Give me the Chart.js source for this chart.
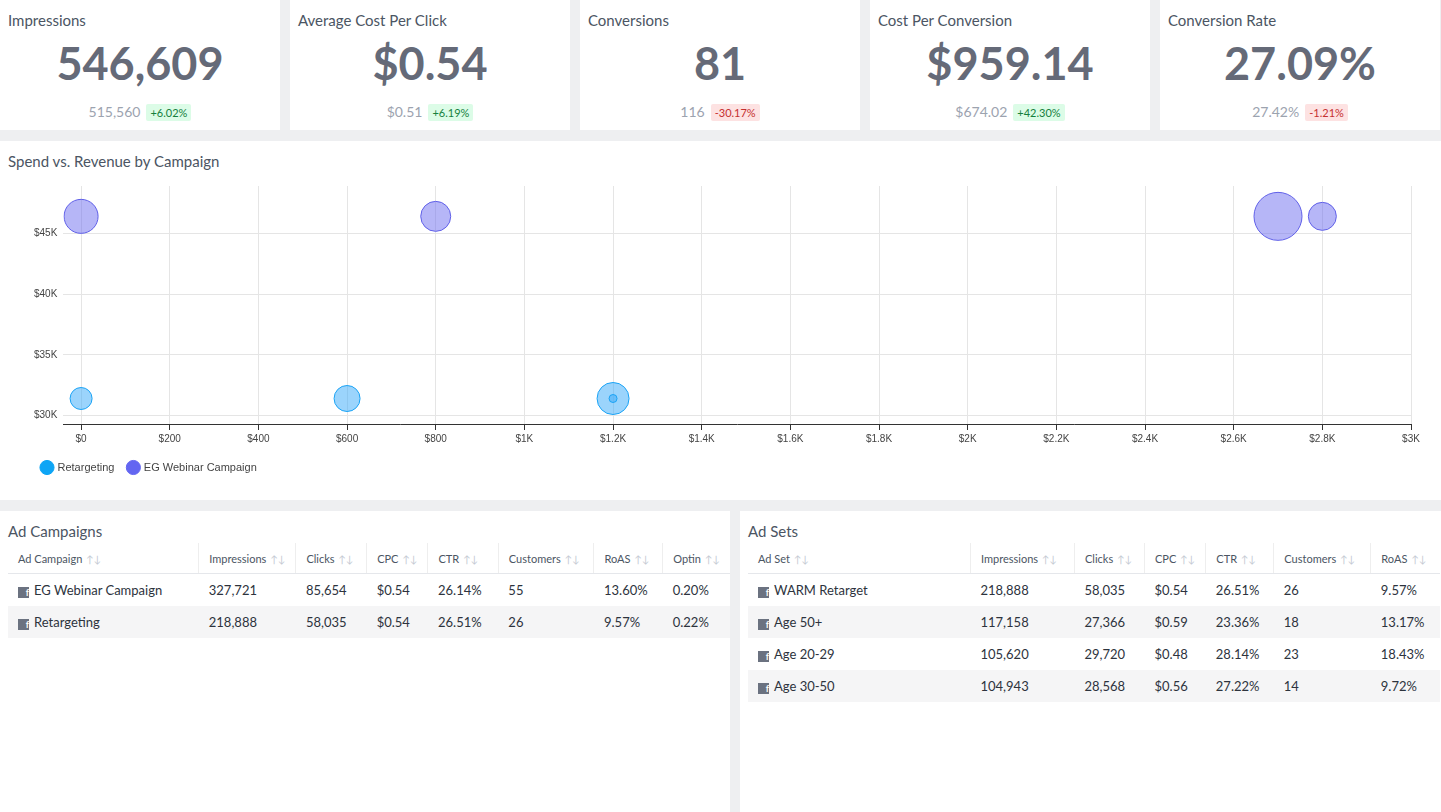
<!DOCTYPE html>
<html>
<head>
<meta charset="utf-8">
<script src="https://cdn.jsdelivr.net/npm/chart.js@4"></script>
<style>
body { margin:0; background:#eeeff1; font-family: Lato, "Noto Sans", sans-serif; color:#3d4451; width:1441px; height:812px; overflow:hidden; position:relative; }
.card { position:absolute; background:#fff; }
.kpi .t { position:absolute; left:8px; top:11px; font-size:15px; color:#4b5563; }
.kpi .v { position:absolute; left:0; right:0; top:36px; text-align:center; font-size:45px; font-weight:700; color:#656a78; }
.kpi .c { position:absolute; left:0; right:0; top:103px; text-align:center; font-size:14px; color:#9ca3af; }
.badge { font-size:11px; padding:2px 4px; border-radius:2px; margin-left:6px; }
.up { background:#dcfce7; color:#15803d; }
.dn { background:#fde2e2; color:#c53030; }
h3 { margin:0; position:absolute; left:8px; font-weight:400; font-size:15px; color:#4b5563; }
table { position:absolute; left:8px; top:32px; border-collapse:collapse; font-size:13px; }
th { text-align:left; font-weight:400; font-size:11px; color:#4b5563; height:30px; padding:0 10px; border-bottom:1px solid #e5e7eb; border-left:1px solid #eee; }
th:first-child { border-left:none; }
th span { color:#c5cad3; font-size:10px; margin-left:4px; }
td { height:32px; padding:0 10px; color:#2d333d; }
tr:nth-child(2n+1) td { background:#f5f5f6; }
.fb { display:inline-block; width:11px; height:11px; background:#6b7280; color:#fff; font-size:9px; font-weight:700; text-align:right; line-height:12px; margin-right:5px; vertical-align:-1px; }
</style>
</head>
<body>
<div id="kpis"></div>
<div class="card" style="left:0;top:141px;width:1441px;height:359px;">
  <h3 style="top:11px">Spend vs. Revenue by Campaign</h3>
  <div style="position:absolute;left:0;top:20px;width:1436px;height:322px;"><canvas id="bubble"></canvas></div>
</div>
<div class="card" style="left:0;top:511px;width:730px;height:301px;">
  <h3 style="top:11px">Ad Campaigns</h3>
  <table id="campTable"></table>
</div>
<div class="card" style="left:740px;top:511px;width:701px;height:301px;">
  <h3 style="top:11px">Ad Sets</h3>
  <table id="setTable"></table>
</div>
<script>
// KPI cards
const kpiTitles = ['Impressions', 'Average Cost Per Click', 'Conversions', 'Cost Per Conversion', 'Conversion Rate'];
const kpiValues = ['546,609', '$0.54', '81', '$959.14', '27.09%'];
const kpiPrev = ['515,560', '$0.51', '116', '$674.02', '27.42%'];
const kpiChange = ['+6.02%', '+6.19%', '-30.17%', '+42.30%', '-1.21%'];

// bubble chart data
const retargetingX = [0, 600, 1200, 1200];
const retargetingY = [31400, 31400, 31400, 31400];
const retargetingR = [11, 13, 16, 4];
const webinarX = [0, 800, 2700, 2800];
const webinarY = [46400, 46400, 46400, 46400];
const webinarR = [17, 15, 24, 14];
const yTicks = [30000, 35000, 40000, 45000];

// tables
const campHeaders = ['Ad Campaign', 'Impressions', 'Clicks', 'CPC', 'CTR', 'Customers', 'RoAS', 'Optin'];
const campWidths = [200, 95, 70, 55, 70, 95, 68, 47];
const campRows = [
    ['EG Webinar Campaign', '327,721', '85,654', '$0.54', '26.14%', '55', '13.60%', '0.20%'],
    ['Retargeting', '218,888', '58,035', '$0.54', '26.51%', '26', '9.57%', '0.22%']
];
const setHeaders = ['Ad Set', 'Impressions', 'Clicks', 'CPC', 'CTR', 'Customers', 'RoAS'];
const setWidths = [222, 103, 69, 59, 67, 96, 69];
const setRows = [
    ['WARM Retarget', '218,888', '58,035', '$0.54', '26.51%', '26', '9.57%'],
    ['Age 50+', '117,158', '27,366', '$0.59', '23.36%', '18', '13.17%'],
    ['Age 20-29', '105,620', '29,720', '$0.48', '28.14%', '23', '18.43%'],
    ['Age 30-50', '104,943', '28,568', '$0.56', '27.22%', '14', '9.72%']
];

let kpiHtml = '';
for (let i = 0; i < kpiTitles.length; i++) {
    let cls = kpiChange[i].startsWith('-') ? 'dn' : 'up';
    kpiHtml += `<div class="card kpi" style="left:${i * 290}px;top:0;width:280px;height:130px;">
        <div class="t">${kpiTitles[i]}</div><div class="v">${kpiValues[i]}</div>
        <div class="c">${kpiPrev[i]}<span class="badge ${cls}">${kpiChange[i]}</span></div></div>`;
}
document.getElementById('kpis').innerHTML = kpiHtml;

function montarTabela(id, headers, widths, rows) {
    let html = '<tr>';
    for (let i = 0; i < headers.length; i++) {
        html += `<th style="width:${widths[i] - 20}px">${headers[i]}<span>↑↓</span></th>`;
    }
    html += '</tr>';
    for (const row of rows) {
        html += '<tr>';
        row.forEach(function (c, i) {
            html += i == 0 ? `<td><span class="fb">f</span>${c}</td>` : `<td>${c}</td>`;
        });
        html += '</tr>';
    }
    document.getElementById(id).innerHTML = html;
}
montarTabela('campTable', campHeaders, campWidths, campRows);
montarTabela('setTable', setHeaders, setWidths, setRows);

function pontos(xs, ys, rs) {
    return xs.map(function (x, i) { return { x: x, y: ys[i], r: rs[i] }; });
}

function dinheiro(v) {
    if (v >= 1000) return '$' + (v / 1000) + 'K';
    return '$' + v;
}

new Chart(document.getElementById('bubble'), {
    type: 'bubble',
    data: {
        datasets: [{
            label: 'Retargeting',
            data: pontos(retargetingX, retargetingY, retargetingR),
            backgroundColor: 'rgba(56,170,250,0.5)',
            borderColor: '#1aa3f5',
            borderWidth: 1
        }, {
            label: 'EG Webinar Campaign',
            data: pontos(webinarX, webinarY, webinarR),
            backgroundColor: 'rgba(110,110,240,0.5)',
            borderColor: '#6060e8',
            borderWidth: 1
        }]
    },
    options: {
        responsive: true,
        maintainAspectRatio: false,
        animation: false,
        layout: { padding: { left: 28, right: 2 } },
        scales: {
            x: {
                type: 'linear', min: -40, max: 3000,
                afterBuildTicks: function (ax) {
                    ax.ticks = [];
                    for (let v = 0; v <= 3000; v += 200) ax.ticks.push({ value: v });
                },
                grid: { color: '#e5e5e5', tickColor: '#333', tickLength: 6 },
                border: { color: '#333' },
                ticks: { color: '#444', font: { size: 10 }, callback: dinheiro }
            },
            y: {
                type: 'linear', min: 29300, max: 48900,
                afterBuildTicks: function (ax) { ax.ticks = yTicks.map(function (v) { return { value: v }; }); },
                grid: { color: '#e5e5e5', drawTicks: false },
                border: { display: false },
                ticks: { color: '#444', font: { size: 10 }, padding: 6, callback: dinheiro }
            }
        },
        plugins: {
            tooltip: { enabled: false },
            legend: {
                position: 'bottom', align: 'start',
                labels: { usePointStyle: true, pointStyle: 'circle', boxWidth: 10, boxHeight: 10, padding: 14, color: '#444', font: { size: 11 },
                    generateLabels: function (chart) {
                        const cores = ['#0ea5f5', '#6366f1'];
                        return chart.data.datasets.map(function (d, i) {
                            return { text: d.label, fillStyle: cores[i], strokeStyle: cores[i], pointStyle: 'circle', datasetIndex: i, fontColor: '#444' };
                        });
                    }
                }
            }
        }
    }
});
</script>
</body>
</html>
